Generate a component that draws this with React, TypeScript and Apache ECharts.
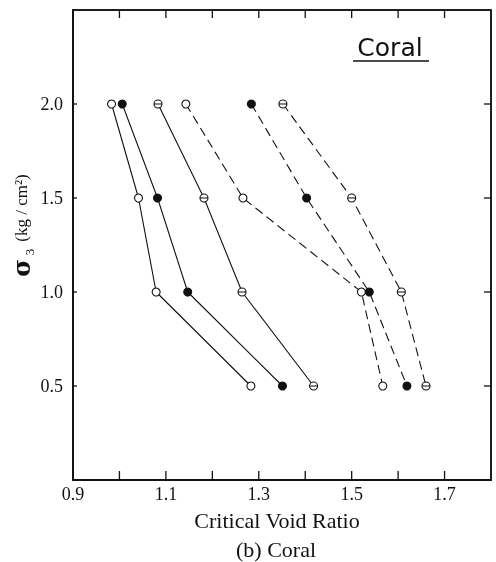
import { useEffect, useRef } from "react";
import * as echarts from "echarts";

const sigma3 = [2.0, 1.5, 1.0, 0.5];
const openSolid = [0.983, 1.041, 1.079, 1.283];
const filledSolid = [1.006, 1.082, 1.147, 1.351];
const barSolid = [1.083, 1.182, 1.264, 1.418];
const openDashed = [1.143, 1.266, 1.521, 1.567];
const filledDashed = [1.284, 1.403, 1.538, 1.619];
const barDashed = [1.352, 1.5, 1.607, 1.66];

const xTicks = [1.0, 1.1, 1.2, 1.3, 1.4, 1.5, 1.6, 1.7];
const xLabels = [0.9, 1.1, 1.3, 1.5, 1.7];
const yTicks = [0.5, 1.0, 1.5, 2.0];

const X_MIN = 0.9;
const X_MAX = 1.8;
const Y_MIN = 0;
const Y_MAX = 2.5;

const BAR_SYMBOL = "path://M0,-4A4,4,0,1,1,0,4A4,4,0,1,1,0,-4ZM-4,0L4,0";

export default function App() {
  const ref = useRef<HTMLDivElement>(null);
  useEffect(() => {
    if (!ref.current) return;
    const chart = echarts.init(ref.current, null, { renderer: "svg" });
    const ink = "#111111";
    const serif = "'Liberation Serif', serif";
    const mk = (xs: number[], symbol: string, fill: string, dashed: boolean) => ({
      type: "line",
      data: xs.map((x, i) => [x, sigma3[i]]),
      symbol,
      symbolSize: 8,
      showAllSymbol: true,
      lineStyle: { color: ink, width: 1.1, type: dashed ? [9, 5] : "solid" },
      itemStyle: { color: fill, borderColor: ink, borderWidth: 1.1 },
      z: 3,
    });
    chart.setOption({
      animation: false,
      grid: {
        left: 73,
        right: 5,
        top: 10,
        bottom: 82,
        outerBoundsMode: "none",
        show: true,
        borderColor: ink,
        borderWidth: 1.5,
      },
      xAxis: {
        type: "value",
        min: X_MIN,
        max: X_MAX,
        splitLine: { show: false },
        axisLine: { show: true, onZero: false, lineStyle: { color: ink, width: 1.5 } },
        axisTick: { show: false },
        axisLabel: {
          customValues: xLabels,
          formatter: (v: number) => v.toFixed(1),
          color: ink,
          fontFamily: serif,
          fontSize: 18,
          margin: 5,
        },
      },
      yAxis: {
        type: "value",
        min: Y_MIN,
        max: Y_MAX,
        splitLine: { show: false },
        axisLine: { show: true, onZero: false, lineStyle: { color: ink, width: 1.5 } },
        axisTick: { show: false },
        axisLabel: {
          customValues: yTicks,
          formatter: (v: number) => v.toFixed(1),
          color: ink,
          fontFamily: serif,
          fontSize: 18,
          margin: 10,
        },
      },
      series: [
        mk(openSolid, "circle", "#ffffff", false),
        mk(filledSolid, "circle", ink, false),
        mk(barSolid, BAR_SYMBOL, "#ffffff", false),
        mk(openDashed, "circle", "#ffffff", true),
        mk(filledDashed, "circle", ink, true),
        mk(barDashed, BAR_SYMBOL, "#ffffff", true),
      ],
    });

    const px = (x: number, y: number) => chart.convertToPixel({ gridIndex: 0 }, [x, y]) as number[];
    const [xl, yb] = px(X_MIN, Y_MIN);
    const [xr, yt] = px(X_MAX, Y_MAX);
    const stroke = { stroke: ink, lineWidth: 1.3 };
    const frame = [
      {
        type: "rect",
        z: 100,
        shape: { x: xl, y: yt, width: xr - xl, height: yb - yt },
        style: { fill: "none", stroke: ink, lineWidth: 1.5 },
      },
    ];
    const ticks: any[] = [];
    xTicks.forEach((t) => {
      const [x] = px(t, Y_MIN);
      ticks.push({ type: "line", z: 100, shape: { x1: x, y1: yb, x2: x, y2: yb - 9 }, style: stroke });
      ticks.push({ type: "line", z: 100, shape: { x1: x, y1: yt, x2: x, y2: yt + 8 }, style: stroke });
    });
    yTicks.forEach((t) => {
      const [, y] = px(X_MIN, t);
      ticks.push({ type: "line", z: 100, shape: { x1: xl, y1: y, x2: xl + 4, y2: y }, style: stroke });
      ticks.push({ type: "line", z: 100, shape: { x1: xr, y1: y, x2: xr - 7, y2: y }, style: stroke });
    });

    chart.setOption({
      graphic: [
        ...frame,
        ...ticks,
        {
          type: "text",
          x: 390,
          y: 47,
          style: {
            text: "Coral",
            fontFamily: "'DejaVu Sans', sans-serif",
            fontSize: 25,
            fill: ink,
            align: "center",
            verticalAlign: "middle",
          },
        },
        { type: "line", shape: { x1: 353, y1: 61, x2: 429, y2: 61 }, style: { stroke: ink, lineWidth: 1.5 } },
        {
          type: "text",
          x: 21,
          y: 268,
          rotation: Math.PI / 2,
          style: {
            text: "σ",
            fontFamily: "'DejaVu Serif', serif",
            fontWeight: "bold",
            fontSize: 24,
            fill: ink,
            align: "center",
            verticalAlign: "middle",
          },
        },
        {
          type: "text",
          x: 29,
          y: 252,
          rotation: Math.PI / 2,
          style: {
            text: "3",
            fontFamily: serif,
            fontSize: 13,
            fill: ink,
            align: "center",
            verticalAlign: "middle",
          },
        },
        {
          type: "text",
          x: 21,
          y: 208,
          rotation: Math.PI / 2,
          style: {
            text: "(kg / cm²)",
            fontFamily: serif,
            fontSize: 17,
            fill: ink,
            align: "center",
            verticalAlign: "middle",
          },
        },
        {
          type: "text",
          x: 277,
          y: 520,
          style: {
            text: "Critical Void Ratio",
            fontFamily: serif,
            fontSize: 22,
            fill: ink,
            align: "center",
            verticalAlign: "middle",
          },
        },
        {
          type: "text",
          x: 276,
          y: 549,
          style: {
            text: "(b) Coral",
            fontFamily: serif,
            fontSize: 22,
            fill: ink,
            align: "center",
            verticalAlign: "middle",
          },
        },
      ],
    });
    return () => chart.dispose();
  }, []);
  return (
    <div ref={ref} style={{ position: "fixed", left: 0, top: 0, width: 496, height: 562 }} />
  );
}
